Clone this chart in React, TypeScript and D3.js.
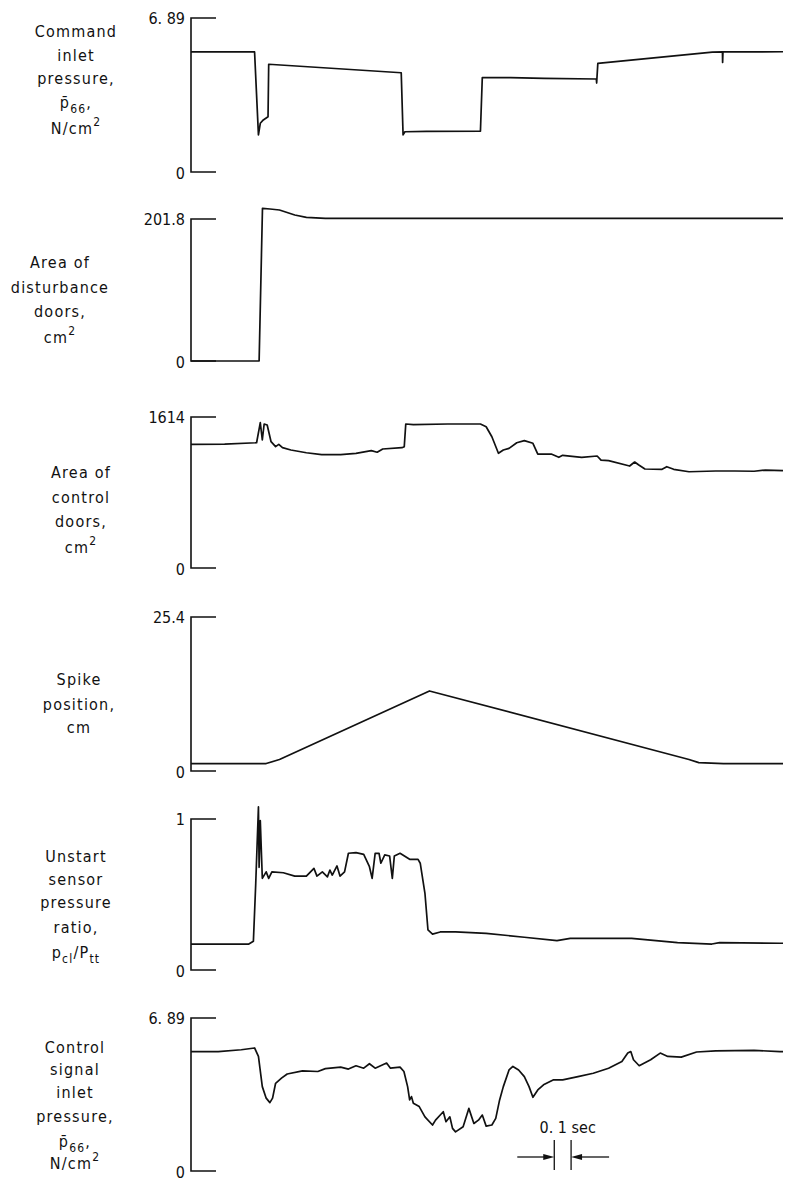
import React from "react";
import * as d3 from "d3";

// ---------- DATA (time in seconds, values in panel units) ----------
const timeDomain: [number, number] = [0, 3.52];

const commandPressure: [number, number][] = [
  [0, 5.37], [0.378, 5.37], [0.401, 1.66], [0.412, 2.18], [0.43, 2.33], [0.458, 2.47], [0.462, 4.82],
  [1.25, 4.44], [1.261, 1.66], [1.272, 1.8], [1.4, 1.82], [1.721, 1.83], [1.732, 4.22], [1.9, 4.22],
  [2.1, 4.19], [2.41, 4.16], [2.412, 3.98], [2.419, 4.86], [3.1, 5.36], [3.16, 5.37], [3.161, 4.9],
  [3.163, 5.37], [3.52, 5.38],
];

const disturbanceArea: [number, number][] = [
  [0, 0], [0.405, 0], [0.425, 217], [0.47, 216], [0.526, 214.6], [0.617, 207.5], [0.686, 204.2],
  [0.799, 202.8], [3.52, 202.8],
];

const controlArea: [number, number][] = [
  [0, 1322], [0.2, 1325], [0.39, 1339], [0.412, 1553], [0.424, 1368], [0.435, 1539], [0.453, 1528],
  [0.476, 1350], [0.503, 1297], [0.522, 1322], [0.544, 1286], [0.594, 1261], [0.686, 1232],
  [0.777, 1211], [0.89, 1211], [0.981, 1226], [1.072, 1254], [1.107, 1237], [1.14, 1272],
  [1.254, 1286], [1.268, 1297], [1.277, 1539], [1.322, 1532], [1.527, 1539], [1.721, 1539],
  [1.755, 1510], [1.789, 1403], [1.828, 1226], [1.857, 1261], [1.891, 1279], [1.937, 1339],
  [1.982, 1361], [2.033, 1333], [2.062, 1218], [2.142, 1218], [2.187, 1183], [2.21, 1204],
  [2.323, 1183], [2.415, 1197], [2.438, 1154], [2.483, 1147], [2.608, 1090], [2.638, 1133],
  [2.665, 1098], [2.699, 1058], [2.801, 1055], [2.829, 1083], [2.87, 1055], [2.961, 1029],
  [3.12, 1037], [3.234, 1037], [3.348, 1034], [3.416, 1047], [3.52, 1040],
];

const spikePosition: [number, number][] = [
  [0, 1.23], [0.447, 1.23], [0.526, 1.89], [1.418, 13.2], [2.961, 1.89], [3.019, 1.39],
  [3.166, 1.23], [3.52, 1.23],
];

const unstartRatio: [number, number][] = [
  [0, 0.172], [0.344, 0.172], [0.371, 0.19], [0.385, 0.574], [0.401, 1.08], [0.405, 0.68],
  [0.412, 0.99], [0.424, 0.607], [0.447, 0.65], [0.462, 0.607], [0.481, 0.65], [0.549, 0.644],
  [0.617, 0.622], [0.686, 0.622], [0.731, 0.673], [0.749, 0.622], [0.781, 0.65], [0.811, 0.617],
  [0.826, 0.662], [0.84, 0.629], [0.868, 0.689], [0.886, 0.622], [0.913, 0.65], [0.936, 0.773],
  [0.981, 0.777], [1.027, 0.766], [1.061, 0.684], [1.077, 0.607], [1.095, 0.773], [1.118, 0.773],
  [1.129, 0.707], [1.152, 0.762], [1.181, 0.755], [1.197, 0.607], [1.209, 0.755], [1.243, 0.773],
  [1.3, 0.733], [1.35, 0.733], [1.363, 0.707], [1.391, 0.508], [1.409, 0.265], [1.436, 0.238],
  [1.482, 0.252], [1.573, 0.252], [1.755, 0.243], [1.982, 0.217], [2.176, 0.194], [2.255, 0.21],
  [2.438, 0.21], [2.62, 0.21], [2.893, 0.181], [3.097, 0.172], [3.143, 0.181], [3.502, 0.177],
  [3.52, 0.177],
];

const controlSignalPressure: [number, number][] = [
  [0, 5.38], [0.162, 5.38], [0.299, 5.46], [0.378, 5.54], [0.401, 5.16], [0.424, 3.8], [0.447, 3.28],
  [0.469, 3.08], [0.485, 3.28], [0.503, 3.95], [0.538, 4.18], [0.572, 4.37], [0.663, 4.51],
  [0.754, 4.48], [0.799, 4.61], [0.89, 4.68], [0.936, 4.59], [0.981, 4.74], [1.027, 4.63],
  [1.061, 4.83], [1.095, 4.63], [1.163, 4.86], [1.186, 4.63], [1.243, 4.68], [1.266, 4.48],
  [1.288, 3.8], [1.3, 3.2], [1.311, 3.35], [1.322, 3.05], [1.357, 2.9], [1.391, 2.44], [1.436, 2.07],
  [1.454, 2.29], [1.482, 2.52], [1.5, 2.67], [1.516, 2.22], [1.539, 2.44], [1.555, 1.92],
  [1.573, 1.76], [1.618, 1.99], [1.652, 2.82], [1.682, 2.14], [1.709, 2.29], [1.732, 2.52],
  [1.755, 2.02], [1.789, 2.07], [1.812, 2.37], [1.835, 3.2], [1.857, 3.8], [1.891, 4.55],
  [1.914, 4.71], [1.948, 4.55], [1.982, 4.25], [2.01, 3.8], [2.033, 3.32], [2.062, 3.65],
  [2.096, 3.88], [2.153, 4.1], [2.21, 4.1], [2.301, 4.25], [2.392, 4.4], [2.483, 4.63],
  [2.562, 4.93], [2.597, 5.31], [2.615, 5.38], [2.631, 5.01], [2.665, 4.74], [2.733, 5.01],
  [2.79, 5.31], [2.835, 5.16], [2.915, 5.13], [3.006, 5.36], [3.12, 5.41], [3.348, 5.43],
  [3.502, 5.38], [3.52, 5.38],
];

const series = [commandPressure, disturbanceArea, controlArea, spikePosition, unstartRatio, controlSignalPressure];
const axisMaxValues = [6.89, 201.8, 1614, 25.4, 1, 6.89];
const axisMaxLabels = ["6. 89", "201.8", "1614", "25.4", "1", "6. 89"];
const axisZeroLabel = "0";

type Seg = { t: string; sub?: boolean; sup?: boolean };
const panelLabels: Seg[][][] = [
  [[{ t: "Command" }], [{ t: "inlet" }], [{ t: "pressure," }], [{ t: "p\u0304" }, { t: "66", sub: true }, { t: "," }], [{ t: "N/cm" }, { t: "2", sup: true }]],
  [[{ t: "Area of" }], [{ t: "disturbance" }], [{ t: "doors," }], [{ t: "cm" }, { t: "2", sup: true }]],
  [[{ t: "Area of" }], [{ t: "control" }], [{ t: "doors," }], [{ t: "cm" }, { t: "2", sup: true }]],
  [[{ t: "Spike" }], [{ t: "position," }], [{ t: "cm" }]],
  [[{ t: "Unstart" }], [{ t: "sensor" }], [{ t: "pressure" }], [{ t: "ratio," }], [{ t: "p" }, { t: "cl", sub: true }, { t: "/P" }, { t: "tt", sub: true }]],
  [[{ t: "Control" }], [{ t: "signal" }], [{ t: "inlet" }], [{ t: "pressure," }], [{ t: "p\u0304" }, { t: "66", sub: true }, { t: "," }], [{ t: "N/cm" }, { t: "2", sup: true }]],
];

const scaleBarStart = 2.16;
const scaleBarDuration = 0.1;
const scaleBarLabel = "0. 1 sec";

// ---------- LAYOUT ----------
const W = 786;
const H = 1184;
const X0 = 191;
const X1 = 783;
const TICK = 25;
const panelRows: [number, number][] = [
  [18, 172], [219, 361], [417, 568], [617, 771], [819, 970], [1018, 1171],
];
const labelCenters = [76, 60, 81, 79, 76, 75];
const labelBaselines = [
  [37, 61, 84, 108, 134],
  [268, 293, 317, 343],
  [478, 503, 527, 553],
  [685, 710, 733],
  [862, 885, 908, 933, 958],
  [1053, 1075, 1098, 1122, 1147, 1169],
];

const FONT = "'DejaVu Sans Condensed', 'DejaVu Sans', sans-serif";

function LabelLine({ segs, x, y }: { segs: Seg[]; x: number; y: number }) {
  let shift = 0;
  const parts = segs.map((s, i) => {
    let target = 0;
    if (s.sub) target = 5;
    if (s.sup) target = -8;
    const dy = target - shift;
    shift = target;
    return (
      <tspan key={i} dy={dy} fontSize={s.sub || s.sup ? 12 : 16}>
        {s.t}
      </tspan>
    );
  });
  return (
    <text x={x} y={y} textAnchor="middle" fontFamily={FONT} fontSize={16} letterSpacing={1.2} fill="#111">
      {parts}
    </text>
  );
}

export default function App() {
  const x = d3.scaleLinear().domain(timeDomain).range([X0, X1]);
  const barL = x(scaleBarStart);
  const barR = x(scaleBarStart + scaleBarDuration);
  const [, zero6] = panelRows[5];
  const arrowY = zero6 - 14;
  return (
    <svg
      width={W}
      height={H}
      viewBox={`0 0 ${W} ${H}`}
      style={{ position: "absolute", left: 0, top: 0, background: "#fff" }}
    >
      <rect width={W} height={H} fill="#fff" />
      {series.map((data, i) => {
        const [top, zero] = panelRows[i];
        const y = d3.scaleLinear().domain([0, axisMaxValues[i]]).range([zero, top]);
        const line = d3
          .line<[number, number]>()
          .x((d) => x(d[0]))
          .y((d) => y(d[1]));
        const yTop = y(axisMaxValues[i]);
        const yZero = y(0);
        return (
          <g key={i}>
            <path
              d={`M${X0 + TICK},${yTop}H${X0}V${yZero}H${X0 + TICK}`}
              fill="none"
              stroke="#111"
              strokeWidth={1.6}
            />
            <text x={185} y={yTop + 6} textAnchor="end" fontFamily={FONT} fontSize={16} fill="#111">
              {axisMaxLabels[i]}
            </text>
            <text x={185} y={yZero + 7} textAnchor="end" fontFamily={FONT} fontSize={16} fill="#111">
              {axisZeroLabel}
            </text>
            <path d={line(data) || ""} fill="none" stroke="#111" strokeWidth={1.7} strokeLinejoin="round" />
            {panelLabels[i].map((segs, j) => (
              <LabelLine key={j} segs={segs} x={labelCenters[i]} y={labelBaselines[i][j]} />
            ))}
          </g>
        );
      })}
      {/* 0.1 sec scale bar */}
      <g stroke="#111" strokeWidth={1.3} fill="#111">
        <line x1={barL} x2={barL} y1={zero6 - 31} y2={zero6 - 1} />
        <line x1={barR} x2={barR} y1={zero6 - 31} y2={zero6 - 1} />
        <line x1={barL - 37} x2={barL - 10} y1={arrowY} y2={arrowY} />
        <path d={`M${barL},${arrowY}L${barL - 11},${arrowY - 3}L${barL - 11},${arrowY + 3}Z`} stroke="none" />
        <line x1={barR + 10} x2={barR + 38} y1={arrowY} y2={arrowY} />
        <path d={`M${barR},${arrowY}L${barR + 11},${arrowY - 3}L${barR + 11},${arrowY + 3}Z`} stroke="none" />
      </g>
      <text
        x={(barL + barR) / 2 + 5}
        y={zero6 - 38}
        textAnchor="middle"
        fontFamily={FONT}
        fontSize={16}
        fill="#111"
      >
        {scaleBarLabel}
      </text>
    </svg>
  );
}
